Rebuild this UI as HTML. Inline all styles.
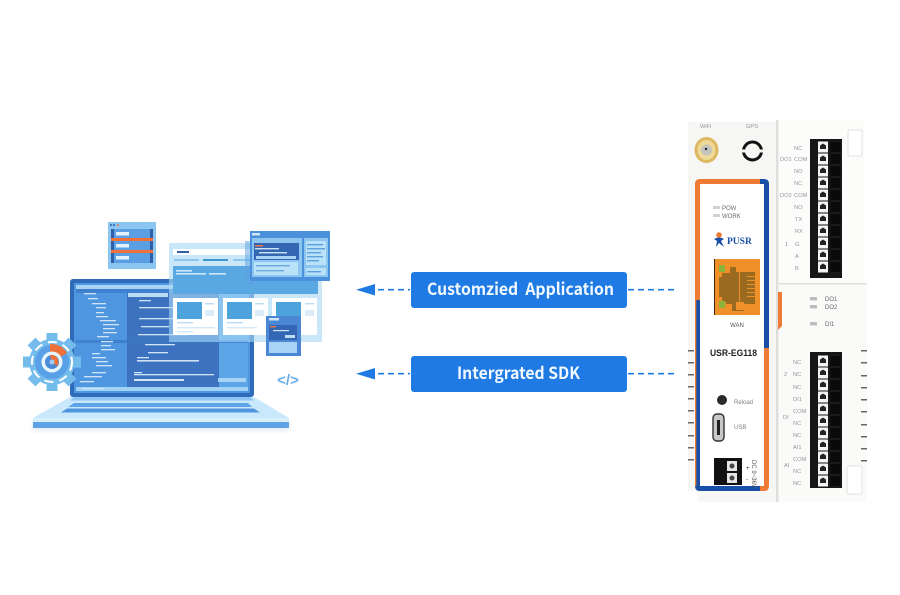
<!DOCTYPE html>
<html><head><meta charset="utf-8"><style>
html,body{margin:0;padding:0;background:#fff;width:900px;height:595px;overflow:hidden}
svg{display:block}
text{font-family:"Liberation Sans",sans-serif;white-space:pre}
.l{font-size:5.7px;fill:#92979b}
.d{font-size:6px;fill:#666b70}
</style></head><body>
<svg width="900" height="595" viewBox="0 0 900 595" xmlns="http://www.w3.org/2000/svg">
<defs>
<filter id="sf" x="-10%" y="-50%" width="120%" height="200%"><feGaussianBlur stdDeviation="3"/></filter>
<g id="pin"><rect x="0" y="-5.5" width="10" height="11" fill="#f4f4f4"/><path d="M5 -3.5l3 2v3.5h-6v-3.5z" fill="#222"/><rect x="12" y="-5.5" width="11" height="11" fill="#0a0a0a" stroke="#262626" stroke-width=".5"/></g>
</defs>

<!-- laptop -->
<rect x="33" y="422" width="256" height="8" fill="#dfe7ee" filter="url(#sf)"/>
<path d="M70 397H254L289 418H33Z" fill="#c9e8fb"/>
<path d="M74 397H250L254 400.500H70Z" fill="#8ec4f3"/>
<path d="M74 403H248L252 407H68Z" fill="#5da4e8"/>
<path d="M67 408.500H254L260 412.500H61Z" fill="#4f95e0"/>
<rect x="33" y="418" width="256" height="4" fill="#d7eefb"/>
<rect x="33" y="422" width="256" height="6" fill="#5fa3e6"/>
<rect x="70" y="279" width="184" height="118" rx="3" fill="#2f6bb8"/>
<rect x="74" y="283" width="176" height="110" fill="#4f96e0"/>
<rect x="76" y="285" width="172" height="4" fill="#a9d3f4"/>
<rect x="76" y="289" width="172" height="4" fill="#3f80cf"/>
<rect x="127" y="293" width="92" height="94" fill="#3c72bf"/>
<rect x="219" y="293" width="29" height="94" fill="#5ba4e6"/>
<rect x="76" y="387" width="172" height="4" fill="#9fd2f4"/>
<rect x="76" y="340" width="172" height="3" fill="#3b78c5" opacity=".7"/>
<rect x="128" y="293" width="40" height="4" fill="#bcdcf6"/>
<g fill="#cfe4f7">
<rect x="84" y="293" width="12" height="1.300"/><rect x="88" y="298" width="10" height="1.300"/><rect x="92" y="303" width="14" height="1.300"/><rect x="96" y="307" width="10" height="1.300"/><rect x="96" y="312" width="8" height="1.300"/><rect x="96" y="316" width="12" height="1.300"/><rect x="100" y="320" width="16" height="1.300"/><rect x="103" y="324" width="16" height="1.300"/><rect x="103" y="328" width="12" height="1.300"/><rect x="103" y="332" width="14" height="1.300"/><rect x="97" y="336" width="12" height="1.300"/><rect x="101" y="341" width="12" height="1.300"/><rect x="101" y="345" width="10" height="1.300"/><rect x="101" y="349" width="14" height="1.300"/><rect x="92" y="353" width="8" height="1.300"/><rect x="92" y="357" width="14" height="1.300"/><rect x="96" y="361" width="12" height="1.300"/><rect x="96" y="365" width="16" height="1.300"/><rect x="92" y="372" width="14" height="1.300"/><rect x="84" y="376" width="18" height="1.300"/><rect x="80" y="381" width="14" height="1.300"/><rect x="82" y="388" width="22" height="1.300"/>
<rect x="139" y="300" width="12" height="1.300"/><rect x="139" y="307" width="40" height="1.300"/><rect x="139" y="318" width="44" height="1.300"/><rect x="141" y="326" width="28" height="1.300"/><rect x="138" y="334" width="50" height="1.300"/><rect x="145" y="344" width="30" height="1.300"/><rect x="148" y="352" width="20" height="1.300"/><rect x="137" y="357" width="12" height="1.300"/><rect x="137" y="360" width="62" height="1.600"/><rect x="134" y="372" width="8" height="1.300"/><rect x="134" y="374" width="80" height="1.300"/><rect x="134" y="379" width="50" height="2"/>
</g>
<rect x="218" y="378" width="28" height="4" fill="#a9d3f4"/>

<!-- translucent window -->
<rect x="169" y="243" width="153" height="99" fill="#a8d8f5" opacity=".62"/>
<rect x="173" y="249" width="145" height="6" fill="#fff" opacity=".95"/>
<rect x="177" y="251" width="12" height="2" fill="#2f5fa8"/>
<rect x="174" y="259" width="25" height="2" fill="#8cc5ee"/><rect x="203" y="259" width="25" height="2" fill="#3f96cf"/><rect x="233" y="259" width="20" height="2" fill="#8cc5ee"/>
<rect x="173" y="266" width="145" height="28" fill="#5aa8e2"/>
<rect x="176" y="270" width="16" height="1.600" fill="#cfe8fa"/><rect x="176" y="273" width="30" height="1.600" fill="#cfe8fa"/><rect x="209" y="273" width="17" height="1.600" fill="#cfe8fa"/>
<rect x="173" y="298" width="45" height="37" fill="#fff"/><rect x="177" y="302" width="25" height="17" fill="#4da3dc"/><rect x="177" y="322" width="16" height="1.400" fill="#bcdcf6"/><rect x="177" y="327" width="38" height="1.400" fill="#d3e8f8"/><rect x="177" y="331" width="16" height="1.400" fill="#d3e8f8"/>
<rect x="223" y="298" width="45" height="37" fill="#fff"/><rect x="227" y="302" width="25" height="17" fill="#4da3dc"/><rect x="227" y="322" width="16" height="1.400" fill="#bcdcf6"/><rect x="227" y="327" width="30" height="1.400" fill="#d3e8f8"/>
<rect x="272" y="298" width="45" height="37" fill="#fff"/><rect x="276" y="302" width="25" height="17" fill="#4da3dc"/>
<rect x="205" y="303" width="9" height="1.500" fill="#bcdcf6"/><rect x="255" y="303" width="9" height="1.500" fill="#bcdcf6"/><rect x="305" y="303" width="9" height="1.500" fill="#bcdcf6"/>
<rect x="205" y="310" width="9" height="6" fill="#dcecf9"/><rect x="255" y="310" width="9" height="6" fill="#dcecf9"/><rect x="305" y="310" width="9" height="6" fill="#dcecf9"/>
<!-- top-right window -->
<rect x="245" y="241" width="8" height="44" fill="#5b9fdf" opacity=".5"/>
<rect x="250" y="231" width="80" height="50" fill="#4a90da"/>
<rect x="252" y="238" width="50" height="39" fill="#8cc6f0"/>
<rect x="254" y="243" width="45" height="17" fill="#3367b3"/>
<rect x="255" y="245" width="8" height="1.600" fill="#e9774a"/><rect x="255" y="248" width="24" height="1.400" fill="#cfe4f7"/><rect x="259" y="252" width="28" height="1.400" fill="#cfe4f7"/><rect x="256" y="256" width="40" height="3" fill="#a9d3f4"/>
<rect x="254" y="262" width="44" height="13" fill="#b9e2f8"/>
<rect x="256" y="265" width="34" height="1.400" fill="#6ea9e2"/><rect x="256" y="270" width="28" height="1.400" fill="#6ea9e2"/>
<rect x="304" y="238" width="24" height="39" fill="#8cc6f0"/>
<rect x="306" y="241" width="20" height="24" fill="#b9e2f8"/><rect x="306" y="268" width="20" height="7" fill="#b9e2f8"/>
<g fill="#5d9fe0"><rect x="307" y="244" width="16" height="1.400"/><rect x="307" y="248" width="18" height="1.400"/><rect x="307" y="252" width="14" height="1.400"/><rect x="307" y="256" width="16" height="1.400"/><rect x="307" y="260" width="12" height="1.400"/><rect x="307" y="271" width="14" height="1.400"/></g>
<rect x="252" y="233" width="8" height="2.500" fill="#cfe4f7"/>
<!-- small window -->
<rect x="266" y="316" width="35" height="40" fill="#4a88d6"/>
<rect x="269" y="318" width="10" height="2.500" fill="#cfe4f7"/>
<rect x="269" y="325" width="28" height="15" fill="#3367b3"/>
<rect x="270" y="326" width="6" height="1.400" fill="#e9774a"/><rect x="273" y="330" width="16" height="1.200" fill="#cfe4f7"/><rect x="285" y="335" width="10" height="3" fill="#bcdcf6"/>
<rect x="269" y="342" width="28" height="11" fill="#a9d3f4"/>
<!-- server card -->
<rect x="108" y="222" width="48" height="47" fill="#8ac6f0"/>
<rect x="111" y="229" width="42" height="9" fill="#5a9fe4"/><rect x="111" y="241" width="42" height="9" fill="#5a9fe4"/><rect x="111" y="253" width="42" height="10" fill="#5a9fe4"/>
<rect x="111" y="229" width="3" height="34" fill="#2f5fa8"/><rect x="150" y="229" width="3" height="34" fill="#2f5fa8"/>
<rect x="111" y="238" width="42" height="3" fill="#ef7137"/><rect x="111" y="250" width="42" height="3" fill="#ef7137"/>
<rect x="116" y="232" width="13" height="3.500" fill="#e3f1fb"/><rect x="116" y="244" width="13" height="3.500" fill="#e3f1fb"/><rect x="116" y="256" width="13" height="3.500" fill="#e3f1fb"/>
<circle cx="111" cy="225" r="1" fill="#2f5fa8"/><circle cx="114" cy="225" r="1" fill="#2f5fa8"/><circle cx="118" cy="225" r="1" fill="#e9774a"/>
<!-- gear -->
<g transform="translate(52,362)">
<circle r="23" fill="#74bcec"/>
<g fill="#74bcec"><rect x="-5.500" y="-29" width="11" height="9"/><rect x="-5.500" y="-29" width="11" height="9" transform="rotate(45)"/><rect x="-5.500" y="-29" width="11" height="9" transform="rotate(90)"/><rect x="-5.500" y="-29" width="11" height="9" transform="rotate(135)"/><rect x="-5.500" y="-29" width="11" height="9" transform="rotate(180)"/><rect x="-5.500" y="-29" width="11" height="9" transform="rotate(225)"/><rect x="-5.500" y="-29" width="11" height="9" transform="rotate(270)"/><rect x="-5.500" y="-29" width="11" height="9" transform="rotate(315)"/></g>
<circle r="20" fill="none" stroke="#fff" stroke-width="2" stroke-dasharray="9 6"/>
<circle r="17" fill="#5aa0e8"/>
<path d="M-2 -18A18 18 0 0 1 15 -9L8 -5A9 9 0 0 0 -2 -9Z" fill="#ef7137"/>
<circle r="10.500" fill="#e6f4fc"/>
<circle r="7" fill="#4c8ad8"/>
<path d="M0 0L-2 -7A7 7 0 0 1 5 4Z" fill="#ef7137"/>
<circle r="2.500" fill="#9ed0f2"/>
</g>
<!-- code icon -->
<text x="288" y="385" font-size="15" font-weight="bold" text-anchor="middle" fill="#6aaee8">&lt;/&gt;</text>

<!-- buttons -->
<rect x="411" y="272" width="216" height="36" rx="3" fill="#1f7be3"/>
<rect x="411" y="356" width="216" height="36" rx="3" fill="#1f7be3"/>
<text x="427" y="295" font-size="16.500" font-weight="bold" fill="#f2f8ff" textLength="187" lengthAdjust="spacingAndGlyphs" xml:space="preserve" style='font-family:"Noto Sans CJK SC","Liberation Sans",sans-serif'>Customzied  Application</text>
<text x="457" y="379" font-size="16.500" font-weight="bold" fill="#f2f8ff" textLength="123" lengthAdjust="spacingAndGlyphs" style='font-family:"Noto Sans CJK SC","Liberation Sans",sans-serif'>Intergrated SDK</text>
<!-- arrows -->
<g stroke="#1f7be3" stroke-width="1.700" stroke-dasharray="6 4" fill="none">
<path d="M378 289.700H410"/><path d="M378 373.700H410"/><path d="M628 289.700H675"/><path d="M628 373.700H675"/>
</g>
<path d="M356 289.700L375 284V295.500Z" fill="#1f7be3"/><path d="M356 373.700L375 368V379.500Z" fill="#1f7be3"/>

<!-- device -->
<rect x="697" y="506" width="160" height="35" fill="#fefefe"/>
<rect x="688" y="122" width="88" height="369" fill="#f6f6f4"/>
<rect x="698" y="491" width="78" height="11" fill="#f7f7f5"/>
<rect x="776" y="120" width="2.500" height="382" fill="#dededc"/>
<rect x="779" y="120" width="85" height="164" fill="#fcfcfb"/>
<rect x="779" y="283" width="88" height="1.500" fill="#dcdcda"/>
<rect x="779" y="285" width="88" height="217" fill="#fafaf9"/>
<path d="M778 292h4v34l-4 4z" fill="#ef7a33"/>
<g fill="#666"><rect x="688" y="350" width="6" height="1.500"/><rect x="688" y="362" width="6" height="1.500"/><rect x="688" y="374" width="6" height="1.500"/><rect x="688" y="386" width="6" height="1.500"/><rect x="688" y="398" width="6" height="1.500"/><rect x="688" y="410" width="6" height="1.500"/><rect x="688" y="422" width="6" height="1.500"/><rect x="688" y="435" width="6" height="1.500"/><rect x="688" y="447" width="6" height="1.500"/><rect x="688" y="459" width="6" height="1.500"/>
<rect x="861" y="350" width="6" height="1.500"/><rect x="861" y="362" width="6" height="1.500"/><rect x="861" y="375" width="6" height="1.500"/><rect x="861" y="387" width="6" height="1.500"/><rect x="861" y="399" width="6" height="1.500"/><rect x="861" y="411" width="6" height="1.500"/><rect x="861" y="424" width="6" height="1.500"/><rect x="861" y="436" width="6" height="1.500"/><rect x="861" y="448" width="6" height="1.500"/><rect x="861" y="460" width="6" height="1.500"/></g>

<text x="700" y="128" class="l">WiFi</text><text x="746" y="128" class="l">GPS</text>
<ellipse cx="706.500" cy="150" rx="12" ry="13" fill="#dcb862"/><ellipse cx="706.500" cy="150" rx="9" ry="10" fill="#efd998"/><circle cx="706.500" cy="150" r="5.500" fill="#c4c4bf"/><circle cx="706" cy="149" r="1.200" fill="#222"/>
<circle cx="752.500" cy="151" r="9" fill="none" stroke="#111" stroke-width="3"/><rect x="741" y="149.500" width="23" height="3" fill="#f6f6f4"/>

<!-- frame -->
<path d="M695 300V184Q695 179 700 179H762V184H700V300Z" fill="#ef7a33"/>
<path d="M760 179H764Q769 179 769 184V348H764V184H760Z" fill="#1a4fa8"/>
<path d="M695 300H700V486H762V491H700Q695 491 695 486Z" fill="#1a4fa8"/>
<path d="M695 300H696.300V486H695Z" fill="#ef7a33"/>
<path d="M764 348H769V486Q769 491 764 491H760V486H764Z" fill="#ef7a33"/>
<rect x="700" y="184" width="64" height="302" fill="#fff"/>
<rect x="713" y="206" width="7" height="3" fill="#d2d2d2"/><rect x="713" y="214" width="7" height="3" fill="#d2d2d2"/>
<text x="722" y="210" class="d">POW</text><text x="722" y="218" class="d">WORK</text>
<circle cx="719" cy="235" r="2.800" fill="#ef7a33"/><path d="M714 239Q719 236 724 239L721 241L724 247L719 243L716 247L717 241Z" fill="#1a4fa8"/>
<text x="727" y="244" font-size="9.500" font-weight="bold" fill="#1a4fa8" style='font-family:"Liberation Serif",serif'>PUSR</text>
<!-- RJ45 -->
<rect x="714" y="259" width="46" height="56" fill="#ef9028"/>
<rect x="714" y="259" width="1" height="56" fill="#3a2a10"/>
<path d="M719 273H730V267H744V272H755V304H744V311H732V304H719Z" fill="#9a6a20"/>
<rect x="736" y="264" width="8" height="8" fill="#ef9028"/><rect x="736" y="302" width="8" height="8" fill="#ef9028"/>
<rect x="739" y="272" width="1" height="33" fill="#ef9028"/>
<path d="M718 264H726V272H722V277H718Z" fill="#ef9028"/><path d="M718 297H722V302H726V310H718Z" fill="#ef9028"/>
<rect x="719" y="265" width="6" height="7" fill="#8cb23a"/><rect x="719" y="301" width="6" height="7" fill="#8cb23a"/>
<g fill="#ef9028"><rect x="747" y="276" width="8" height="1"/><rect x="747" y="280" width="8" height="1"/><rect x="747" y="284" width="8" height="1"/><rect x="747" y="288" width="8" height="1"/><rect x="747" y="292" width="8" height="1"/><rect x="747" y="296" width="8" height="1"/></g>
<text x="737" y="327" font-size="6" fill="#555" text-anchor="middle">WAN</text>
<text x="710" y="356" font-size="9.500" font-weight="bold" fill="#222" textLength="47" lengthAdjust="spacingAndGlyphs">USR-EG118</text>
<circle cx="722" cy="400" r="5" fill="#2a2a2a"/><text x="734" y="404" font-size="6" fill="#808080">Reload</text>
<rect x="713" y="414" width="11" height="27" rx="4" fill="#c8c8c8" stroke="#333" stroke-width="1.400"/><rect x="717" y="420" width="3" height="15" fill="#222"/>
<text x="734" y="429" font-size="6" fill="#808080">USB</text>
<rect x="714" y="458" width="28" height="27" fill="#111"/>
<rect x="727" y="461" width="10" height="10" fill="#e6e6e6"/><rect x="727" y="473" width="10" height="10" fill="#e6e6e6"/><circle cx="732" cy="466" r="2.500" fill="#444"/><circle cx="732" cy="478" r="2.500" fill="#444"/>
<text transform="translate(752,460) rotate(90)" font-size="6" fill="#555">DC 9~36V</text>
<text x="746" y="470" font-size="6" fill="#333">+</text><text x="746" y="481" font-size="6" fill="#333">-</text>

<!-- upper terminal -->
<rect x="810" y="139" width="32" height="139" fill="#161616"/>
<use href="#pin" x="818" y="147"/><use href="#pin" x="818" y="159"/><use href="#pin" x="818" y="171"/><use href="#pin" x="818" y="183"/><use href="#pin" x="818" y="195"/><use href="#pin" x="818" y="207"/><use href="#pin" x="818" y="219"/><use href="#pin" x="818" y="231"/><use href="#pin" x="818" y="243"/><use href="#pin" x="818" y="255"/><use href="#pin" x="818" y="267"/>
<text x="794" y="150" class="l">NC</text><text x="794" y="161" class="l">COM</text><text x="794" y="173" class="l">NO</text><text x="794" y="185" class="l">NC</text><text x="794" y="197" class="l">COM</text><text x="794" y="209" class="l">NO</text><text x="795" y="221" class="l">TX</text><text x="795" y="233" class="l">RX</text><text x="795" y="246" class="l">G</text><text x="795" y="258" class="l">A</text><text x="795" y="270" class="l">B</text>
<text x="780" y="161" class="l">DO1</text><text x="780" y="197" class="l">DO2</text><text x="785" y="246" class="l">1</text>
<rect x="848" y="130" width="14" height="26" rx="1" fill="#fff" stroke="#e2e2e0"/>
<!-- LEDs -->
<rect x="810" y="297" width="7" height="3.500" fill="#bcbcbc"/><rect x="810" y="305" width="7" height="3.500" fill="#bcbcbc"/><rect x="810" y="322" width="7" height="3.500" fill="#bcbcbc"/>
<text x="825" y="301" class="d">DO1</text><text x="825" y="309" class="d">DO2</text><text x="825" y="326" class="d">DI1</text>
<!-- lower terminal -->
<rect x="810" y="352" width="32" height="136" fill="#161616"/>
<use href="#pin" x="818" y="361"/><use href="#pin" x="818" y="373"/><use href="#pin" x="818" y="385"/><use href="#pin" x="818" y="397"/><use href="#pin" x="818" y="409"/><use href="#pin" x="818" y="421"/><use href="#pin" x="818" y="433"/><use href="#pin" x="818" y="445"/><use href="#pin" x="818" y="457"/><use href="#pin" x="818" y="469"/><use href="#pin" x="818" y="481"/>
<text x="793" y="364" class="l">NC</text><text x="793" y="376" class="l">NC</text><text x="793" y="389" class="l">NC</text><text x="793" y="401" class="l">DI1</text><text x="793" y="413" class="l">COM</text><text x="793" y="425" class="l">NC</text><text x="793" y="437" class="l">NC</text><text x="793" y="449" class="l">AI1</text><text x="793" y="461" class="l">COM</text><text x="793" y="473" class="l">NC</text><text x="793" y="485" class="l">NC</text>
<text x="784" y="376" class="l">2</text><text x="783" y="419" class="l">DI</text><text x="784" y="467" class="l">AI</text>
<rect x="847" y="466" width="15" height="28" rx="1" fill="#fff" stroke="#e2e2e0"/>
</svg>
</body></html>
